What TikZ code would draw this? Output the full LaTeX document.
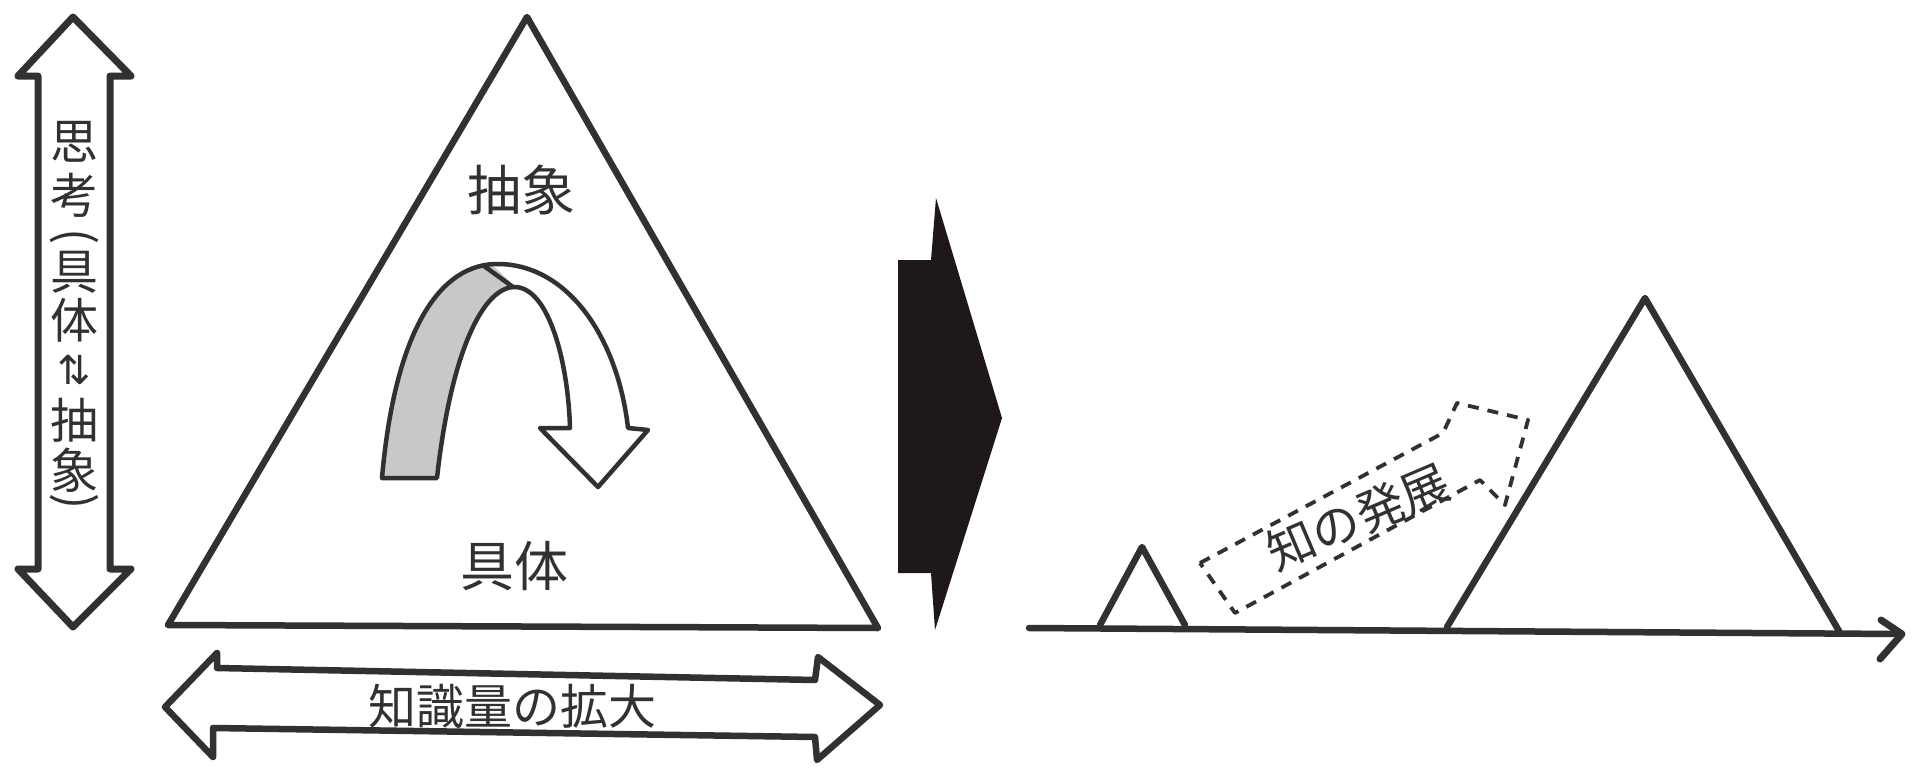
\documentclass[tikz,border=0pt]{standalone}
\usepackage{fontspec}
\newfontfamily\jp{Noto Sans CJK JP}
\newfontfamily\djv{DejaVu Sans}
\definecolor{ink}{RGB}{50,48,48}
\definecolor{blk}{RGB}{31,24,24}
\definecolor{band}{RGB}{200,200,200}
\begin{document}
\begin{tikzpicture}[x=1pt,y=-1pt,
  sketch/.style={draw=ink,line width=6.5pt,line join=round,line cap=round},
  thinsketch/.style={draw=ink,line width=4.5pt,line join=round,line cap=round},
  dashsketch/.style={draw=ink,line width=3.8pt,dash pattern=on 11pt off 9pt,line join=round},
  lbl/.style={font=\jp\fontsize{54}{56}\selectfont,text=ink,inner sep=0pt},
  vch/.style={font=\jp\fontsize{48}{48}\selectfont,text=ink,inner sep=0pt}]
\useasboundingbox (0,0) rectangle (1920,779);
\fill[white] (0,0) rectangle (1920,779);

% ---- left vertical double arrow
\draw[sketch,line width=7pt] (73,17) -- (131,76) -- (110,76) -- (110,569) -- (131,569)
  -- (73,627) -- (18,569) -- (38,569) -- (38,76) -- (18,76) -- cycle;
\node[vch] (v1) at (74,142) {思};
\node[vch] (v2) at (74,195) {考};
\node[vch] (v3) at (74,240) {\rotatebox[origin=c]{-90}{(}};
\node[vch] (v4) at (74,272) {具};
\node[vch] (v5) at (74,320) {体};
\node[vch,font=\djv\fontsize{40}{40}\selectfont] (v6) at (74,370) {⇅};
\node[vch] (v7) at (74,420) {抽};
\node[vch] (v8) at (74,470) {象};
\node[vch] (v9) at (74,505) {\rotatebox[origin=c]{-90}{)}};

% ---- big triangle
\coordinate (ta) at (527,17);
\coordinate (tl) at (168,625);
\coordinate (tr) at (878,628);
\draw[sketch] (ta) -- (tr) -- (tl) -- cycle;
\node[lbl] (abs) at (521,190) {抽象};
\node[lbl] (con) at (514,566) {具体};

% ---- curved ribbon arrow
\coordinate (of) at (382,478);
\coordinate (if) at (437,478);
\coordinate (ot) at (500,264);
\coordinate (it) at (513,287);
\path[fill=white] (of) .. controls (395,330) and (440,262) .. (ot)
  .. controls (570,266) and (618,340) .. (628,428) -- (648,430) -- (598,487) -- (540,428) -- (570,428)
  .. controls (568,360) and (548,285) .. (it) .. controls (480,290) and (450,360) .. (if) -- cycle;
\begin{scope}
\clip (340,230) -- (455,230) -- (522,293) -- (522,500) -- (340,500) -- cycle;
\path[fill=band] (of) .. controls (395,330) and (440,262) .. (ot)
  .. controls (570,266) and (618,340) .. (628,428) -- (570,428)
  .. controls (568,360) and (548,285) .. (it) .. controls (480,290) and (450,360) .. (if) -- cycle;
\end{scope}
\draw[thinsketch] (of) .. controls (395,330) and (440,262) .. (ot)
  .. controls (570,266) and (618,340) .. (628,428) -- (648,430) -- (598,487) -- (540,428) -- (570,428)
  .. controls (568,360) and (548,285) .. (it) .. controls (480,290) and (450,360) .. (if) -- cycle;
\draw[thinsketch] (484,266) -- (it);

% ---- bottom double arrow
\draw[sketch] (165,707) -- (217,653) -- (217,668) -- (815,680) -- (818,657) -- (880,705)
  -- (817,760) -- (815,737) -- (213,728) -- (213,757) -- cycle;
\node[lbl,font=\jp\fontsize{48}{50}\selectfont] (grow) at (512,706) {知識量の拡大};

% ---- black arrow
\fill[blk] (898,260) -- (931,260) -- (936,198) -- (1002,418) -- (935,630) -- (931,573) -- (898,573) -- cycle;

% ---- right side
\coordinate (ax0) at (1029,628);
\coordinate (ax1) at (1898,634);
\draw[sketch] (ax0) -- (ax1);
\draw[sketch,line width=7pt] (1881,620) -- (1902,634) -- (1880,659);
\draw[sketch] (1100,625) -- (1142,547) -- (1185,625);
\draw[sketch] (1447,627) -- (1645,298) -- (1839,631);
\draw[dashsketch] (1200,563) -- (1443,433) -- (1457,403) -- (1528,420) -- (1505,505)
  -- (1480,480) -- (1235,613) -- cycle;
\node[lbl,font=\jp\fontsize{48}{50}\selectfont,rotate=23] (dev) at (1358,517) {知の発展};
\end{tikzpicture}
\end{document}
